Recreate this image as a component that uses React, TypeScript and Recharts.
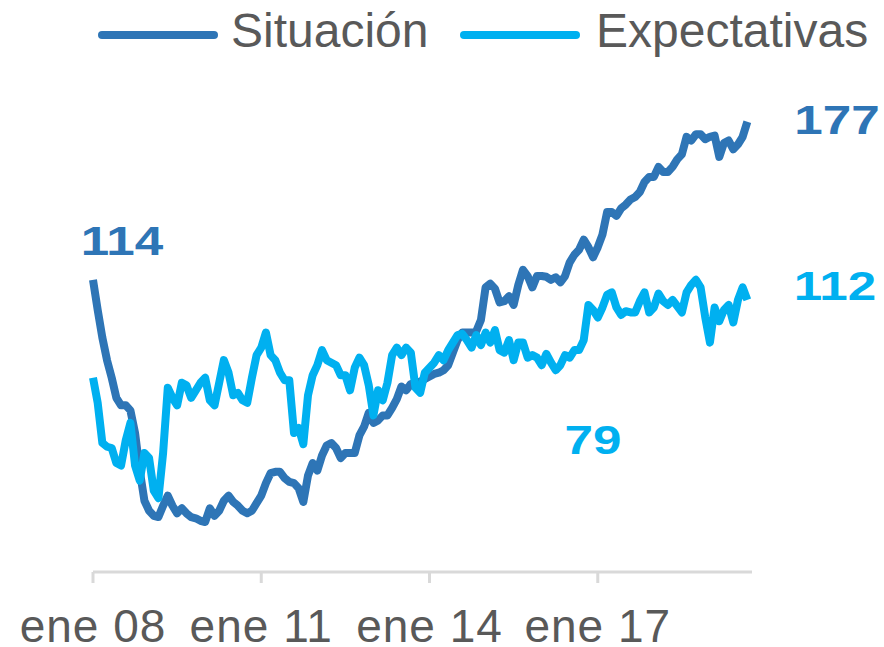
import React from 'react';
import { LineChart, Line, XAxis, YAxis } from 'recharts';

// Monthly, ene 2008 - sep 2019 (one empty slot at the end for axis overhang)
const MESES = ['ene', 'feb', 'mar', 'abr', 'may', 'jun', 'jul', 'ago', 'sep', 'oct', 'nov', 'dic'];
const startYear = 2008;
const nMonths = 142;

const situacion = [
  114, 102, 91, 82, 75, 67, 64, 64, 62, 53,
  38, 26, 22, 20, 19.5, 24, 28, 24, 21, 23,
  21, 19.5, 19, 18, 17.5, 23, 20, 22, 26, 28,
  25.5, 24, 22, 21, 22, 25, 28, 33, 37, 37.5,
  37.5, 35, 33.5, 33, 31, 25.5, 36, 41, 38, 44,
  48, 49, 47, 43, 45, 45, 45, 52, 55.5, 61,
  57, 58, 60, 60, 63, 66.5, 71.5, 70, 72.5, 73,
  73.4, 74.5, 75.5, 76.5, 77, 78, 80, 85, 90, 93,
  93, 93, 93.5, 98, 111, 112.5, 110.5, 105, 105.5, 107.5,
  104, 112, 118, 115.5, 111, 115.5, 115.5, 115.2, 114, 115,
  113, 115.5, 121, 124, 126, 130, 127, 123, 127, 132,
  141, 141, 139.5, 142.5, 144, 146, 147, 149, 153, 155,
  155, 159, 157, 157, 159, 162, 164, 171, 169.5, 172,
  172, 170, 171, 171.5, 163, 168.5, 169.5, 166, 168, 171,
  177,
];

const expectativas = [
  75, 65, 49, 47.5, 47, 41, 40, 50, 57, 40,
  34, 45, 43, 30, 27, 45, 71, 67, 64, 73,
  72, 67, 70, 73, 75, 66, 64, 73, 82, 77,
  68, 69, 66, 65, 75, 84, 87, 93, 84, 82,
  77, 74, 74, 53, 55, 48.5, 68, 76, 80, 86,
  82, 81, 80, 76, 76, 70, 79, 83, 80, 72,
  60, 70, 66, 73, 84, 87, 84, 87, 85, 71,
  69, 77, 79, 81, 84, 82, 86, 89, 92, 92.5,
  90, 87, 92, 88, 93, 89, 94, 86, 85, 90,
  82, 89, 89, 83, 84, 83, 80, 84.5, 81, 78,
  80, 84, 83, 86, 86, 90, 104, 102, 99, 103,
  108, 109, 103, 100, 101.5, 101, 101, 105.5, 109, 101,
  103, 108.5, 105.5, 104, 106, 103.5, 101, 109, 112, 114,
  111, 99, 89, 103, 97.5, 102, 104, 97, 106, 111,
  106,
];

const xTicks = ['ene 08', 'ene 11', 'ene 14', 'ene 17'];

const data = Array.from({ length: nMonths }, (_, i) => ({
  mes: `${MESES[i % 12]} ${String((startYear + Math.floor(i / 12)) % 100).padStart(2, '0')}`,
  situacion: situacion[i],
  expectativas: expectativas[i],
}));

const C_SIT = '#2E75B6';
const C_EXP = '#00B0F0';
const GREY = '#595959';
const FONT = '"Liberation Sans", Arial, sans-serif';

const XTick = (props: any) => {
  const { x, payload } = props;
  return (
    <text x={x} y={642} textAnchor="middle" fill={GREY} fontSize={46} fontFamily={FONT} letterSpacing={1}>
      {payload.value}
    </text>
  );
};

// legend drawn as plain html on top, so it doesn't eat plot height
const LegendBox = () => (
  <div style={{ position: 'absolute', left: 0, top: 0, width: 884, height: 70, fontFamily: FONT, fontSize: 48, color: GREY }}>
    <div style={{ position: 'absolute', left: 98, top: 31, width: 120, height: 8, borderRadius: 4, background: C_SIT }} />
    <span style={{ position: 'absolute', left: 231, top: 3, lineHeight: '56px' }}>Situación</span>
    <div style={{ position: 'absolute', left: 460, top: 31, width: 120, height: 8, borderRadius: 4, background: C_EXP }} />
    <span style={{ position: 'absolute', left: 596, top: 3, lineHeight: '56px' }}>Expectativas</span>
  </div>
);

const Tag = ({ x, y, color, text }: { x: number; y: number; color: string; text: string }) => (
  <text
    transform={`translate(${x},${y}) scale(1.28,1)`}
    textAnchor="middle"
    fill={color}
    fontSize={40}
    fontWeight="bold"
    fontFamily={FONT}
  >
    {text}
  </text>
);

export default function App() {
  return (
    <div style={{ position: 'absolute', left: 0, top: 0, width: 884, height: 647, background: '#fff' }}>
      <LineChart width={884} height={647} data={data} margin={{ top: 70, right: 132, bottom: 0, left: 93 }}>
        <XAxis
          dataKey="mes"
          ticks={xTicks}
          interval={0}
          height={75}
          axisLine={{ stroke: '#D9D9D9', strokeWidth: 3 }}
          tickLine={{ stroke: '#D9D9D9', strokeWidth: 3 }}
          tickSize={11}
          tick={<XTick />}
          padding={{ left: 0, right: 0 }}
        />
        <YAxis hide domain={[-2.4, 197.6]} allowDataOverflow />
        <Line
          type="linear"
          dataKey="situacion"
          name="Situación"
          stroke={C_SIT}
          strokeWidth={8}
          strokeLinejoin="round"
          dot={false}
          isAnimationActive={false}
        />
        <Line
          type="linear"
          dataKey="expectativas"
          name="Expectativas"
          stroke={C_EXP}
          strokeWidth={8}
          strokeLinejoin="round"
          dot={false}
          isAnimationActive={false}
        />
      </LineChart>
      <LegendBox />
      <svg width={884} height={647} style={{ position: 'absolute', left: 0, top: 0, pointerEvents: 'none' }}>
        <Tag x={122} y={255} color={C_SIT} text="114" />
        <Tag x={837} y={134} color={C_SIT} text="177" />
        <Tag x={835} y={300} color={C_EXP} text="112" />
        <Tag x={593} y={454} color={C_EXP} text="79" />
      </svg>
    </div>
  );
}
